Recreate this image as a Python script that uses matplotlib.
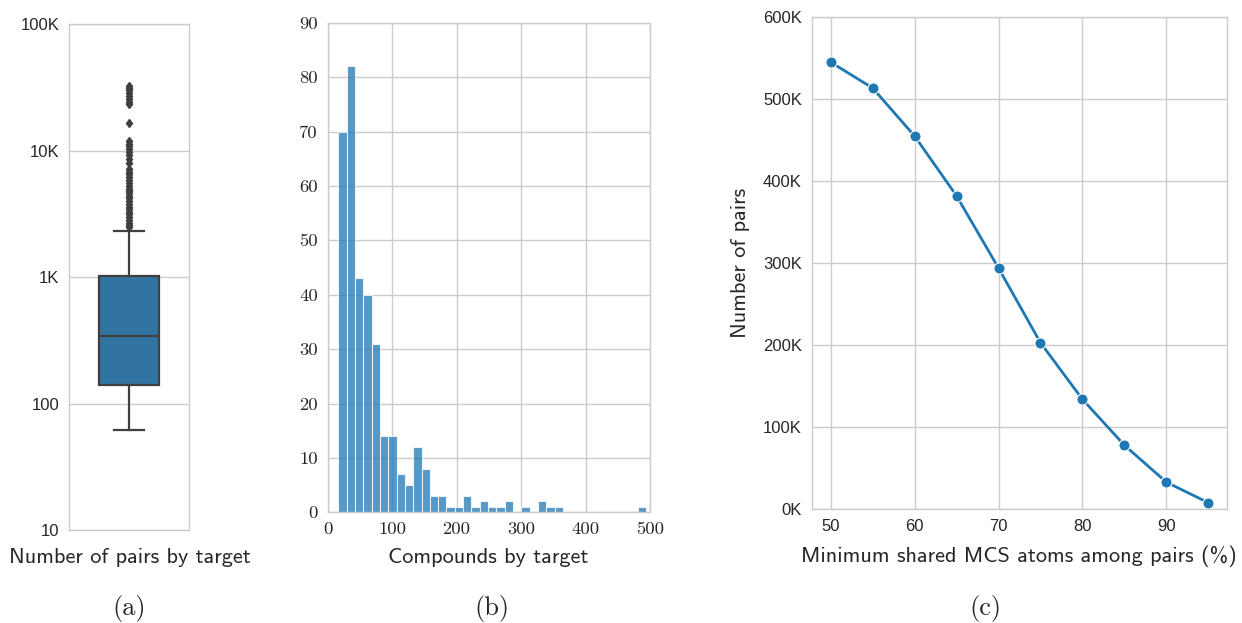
import matplotlib
matplotlib.use("Agg")
import matplotlib.pyplot as plt
import numpy as np

# ---------------- data ----------------
# (a) box plot statistics of number of pairs by target (log scale)
box_q1 = 141
box_median = 344
box_q3 = 1020
box_whisker_low = 62
box_whisker_high = 2300
box_fliers = [2500, 2600, 2700, 2850, 3000, 3150, 3300, 3450, 3600, 3800,
              4000, 4200, 4400, 4600, 4800, 5000, 5300, 5600, 5900, 6200,
              6500, 6800, 7200, 8000, 8600, 9200, 9800, 10300, 10800, 11300,
              12000, 16700, 23500, 24500, 25500, 27000, 28500, 30000, 31500, 32400]
a_ticks = [10, 100, 1000, 10000, 100000]
a_ticklabels = ["10", "100", "1K", "10K", "100K"]

# (b) histogram of compounds by target (precomputed bin counts)
hist_min = 16.5
hist_max = 494.0
hist_counts = [70, 82, 43, 40, 31, 14, 14, 7, 5, 12, 8, 3, 3, 1, 1, 3, 1, 2, 1,
               1, 2, 0, 1, 0, 2, 1, 1, 0, 0, 0, 0, 0, 0, 0, 0, 0, 1]
b_xticks = [0, 100, 200, 300, 400, 500]
b_yticks = [0, 10, 20, 30, 40, 50, 60, 70, 80, 90]

# (c) number of pairs vs minimum shared MCS atoms
mcs_pct = [50, 55, 60, 65, 70, 75, 80, 85, 90, 95]
n_pairs = [545000, 513500, 455000, 382000, 294000, 203000, 134000, 78000, 33000, 8000]
c_yticks = [0, 100000, 200000, 300000, 400000, 500000, 600000]
c_yticklabels = ["0K", "100K", "200K", "300K", "400K", "500K", "600K"]
c_xticks = [50, 60, 70, 80, 90]

# ---------------- style ----------------
W, H = 1242, 623
DPI = 100
TXT = "#262626"
GRID = "#cccccc"
SANS_TICK = "Liberation Sans"
CM_SANS = "cmss10"
CM_SERIF = "cmr10"
TICK_PT = 12
LABEL_PT = 16
CAP_PT = 19

fig = plt.figure(figsize=(W / DPI, H / DPI), dpi=DPI)


def rect(l, r, t, b):
    return [l / W, 1 - b / H, (r - l) / W, (b - t) / H]


def style_axes(ax):
    ax.set_facecolor("white")
    for s in ax.spines.values():
        s.set_color(GRID)
        s.set_linewidth(1.0)
    ax.tick_params(length=0, pad=7, colors=TXT)
    ax.grid(True, color=GRID, linewidth=1.0)
    ax.set_axisbelow(True)


def place_xlabel(ax, text, x_px, y_px, font):
    pos = ax.get_position()
    ax.set_xlabel(text, fontsize=LABEL_PT, family=font, color=TXT)
    ax.xaxis.label.set_va("center")
    xa = (x_px / W - pos.x0) / pos.width
    ya = ((1 - y_px / H) - pos.y0) / pos.height
    ax.xaxis.set_label_coords(xa, ya)


# ---------------- (a) ----------------
axA = fig.add_axes(rect(69.3, 189.3, 24.3, 530))
style_axes(axA)
stats = [dict(med=box_median, q1=box_q1, q3=box_q3, whislo=box_whisker_low,
              whishi=box_whisker_high, fliers=box_fliers)]
lc = "#3f3f3f"
axA.bxp(stats, positions=[0], widths=0.5, patch_artist=True,
        boxprops=dict(facecolor="#3274a1", edgecolor=lc, linewidth=1.6),
        medianprops=dict(color=lc, linewidth=1.6),
        whiskerprops=dict(color=lc, linewidth=1.6),
        capprops=dict(color=lc, linewidth=1.6),
        flierprops=dict(marker="d", markersize=4.5, markerfacecolor=lc,
                        markeredgecolor=lc, linestyle="none"))
axA.set_yscale("log")
axA.set_ylim(10, 100000)
axA.set_xlim(-0.5, 0.5)
axA.set_yticks(a_ticks)
axA.set_yticklabels(a_ticklabels)
axA.yaxis.set_minor_locator(matplotlib.ticker.NullLocator())
axA.set_xticks([])
axA.xaxis.grid(False)
for lab in axA.get_yticklabels():
    lab.set_family(SANS_TICK)
    lab.set_fontsize(TICK_PT)
place_xlabel(axA, "Number of pairs by target", 129.5, 557.3, CM_SANS)

# ---------------- (b) ----------------
axB = fig.add_axes(rect(327.7, 650, 22.7, 512.3))
style_axes(axB)
nb = len(hist_counts)
edges = np.linspace(hist_min, hist_max, nb + 1)
bw = edges[1] - edges[0]
axB.bar(edges[:-1], hist_counts, width=bw, align="edge", color="#1f77b4",
        alpha=0.75, edgecolor="white", linewidth=0.8)
axB.set_xlim(0, 500)
axB.set_ylim(0, 90)
axB.set_xticks(b_xticks)
axB.set_yticks(b_yticks)
for lab in axB.get_xticklabels() + axB.get_yticklabels():
    lab.set_family(CM_SERIF)
    lab.set_fontsize(13.4)
place_xlabel(axB, "Compounds by target", 488.3, 557.7, CM_SANS)

# ---------------- (c) ----------------
axC = fig.add_axes(rect(811.7, 1227.3, 17, 509.3))
style_axes(axC)
axC.plot(mcs_pct, n_pairs, color="#1f77b4", linewidth=2.0, marker="o",
         markersize=8, markeredgecolor="white", markeredgewidth=0.8)
axC.set_xlim(47.75, 97.25)
axC.set_ylim(0, 600000)
axC.set_xticks(c_xticks)
axC.set_yticks(c_yticks)
axC.set_yticklabels(c_yticklabels)
for lab in axC.get_xticklabels() + axC.get_yticklabels():
    lab.set_family(SANS_TICK)
    lab.set_fontsize(TICK_PT)
place_xlabel(axC, "Minimum shared MCS atoms among pairs (%)", 1018.5, 556, CM_SANS)
axC.set_ylabel("Number of pairs", fontsize=LABEL_PT, family=CM_SANS, color=TXT)
axC.yaxis.label.set_va("center")
posC = axC.get_position()
axC.yaxis.set_label_coords((740 / W - posC.x0) / posC.width, 0.5)

# ---------------- captions ----------------
for txt, x, y in [("(a)", 129.5, 608.3), ("(b)", 491.7, 608.3), ("(c)", 985, 608.3)]:
    fig.text(x / W, 1 - y / H, txt, ha="center", va="center",
             family=CM_SERIF, fontsize=CAP_PT, color=TXT)

fig.savefig("out.png", dpi=DPI, facecolor="white")
